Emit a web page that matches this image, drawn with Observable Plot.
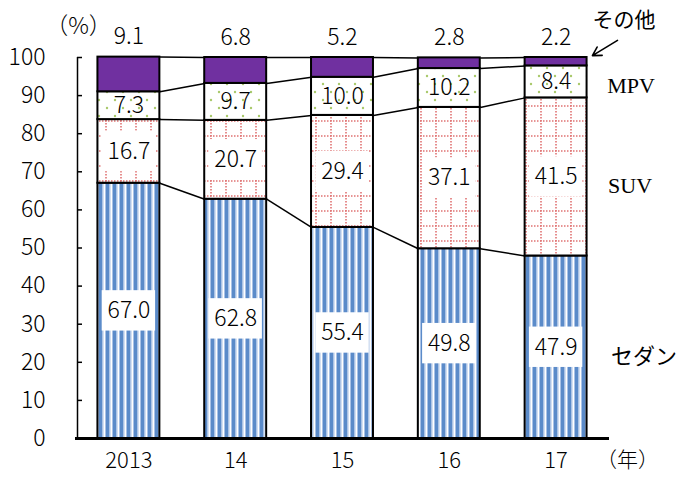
<!DOCTYPE html>
<html><head><meta charset="utf-8">
<script src="https://cdn.jsdelivr.net/npm/d3@7"></script>
<script src="https://cdn.jsdelivr.net/npm/@observablehq/plot@0.6"></script>
<style>body{margin:0;background:#fff}</style>
</head><body><div id="chart"></div>
<script>
// ---- data ----
const years = ["2013", "14", "15", "16", "17"];
const sedan = [67.0, 62.8, 55.4, 49.8, 47.9];
const suv   = [16.7, 20.7, 29.4, 37.1, 41.5];
const mpv   = [7.3, 9.7, 10.0, 10.2, 8.4];
const other = [9.1, 6.8, 5.2, 2.8, 2.2];
const yTicks = [0, 10, 20, 30, 40, 50, 60, 70, 80, 90, 100];
const seriesNames = ["セダン", "SUV", "MPV", "その他"];
const yUnit = "（%）";
const xUnit = "（年）";

// ---- derived tables ----
const seriesValues = [sedan, suv, mpv, other];
const patternIds = ["pSedan", "pSuv", "pMpv", "pOther"];
const half = 0.29;
const segs = seriesValues.map((vals, s) => vals.map((v, i) => {
  let lo = 0;
  for (let k = 0; k < s; k++) lo += seriesValues[k][i];
  return {s, i, value: v, lo, hi: lo + v, mid: lo + v / 2};
}));
const fmt = d3.format(".1f");
const links = [];
segs.forEach(list => {
  for (let i = 0; i < list.length - 1; i++) {
    links.push({x1: list[i].i + half, y1: list[i].hi, x2: list[i + 1].i - half, y2: list[i + 1].hi});
  }
});
const boxed = [...segs[0], ...segs[1]].map(d => ({
  i: d.i,
  y1: Math.max(d.lo + 0.9, d.mid - 5.3),
  y2: Math.min(d.hi - 0.9, d.mid + 5.3)
}));
const last = years.length - 1;

const gothic = `"Noto Sans CJK JP","Noto Sans",sans-serif`;
const serif = `"Liberation Serif","DejaVu Serif",serif`;
const num = {fontFamily: gothic, fontWeight: 300, fontSize: 23, fill: "#000"};

const marks = [];
seriesValues.forEach((vals, s) => {
  marks.push(Plot.rect(segs[s], {
    x1: d => d.i - half, x2: d => d.i + half, y1: "lo", y2: "hi",
    fill: s === 3 ? "#7030A0" : `url(#${patternIds[s]})`,
    stroke: "#000", strokeWidth: 2
  }));
});
marks.push(
  Plot.rect(boxed, {x1: d => d.i - 0.25, x2: d => d.i + 0.25, y1: "y1", y2: "y2", fill: "#fff"}),
  Plot.link(links, {x1: "x1", y1: "y1", x2: "x2", y2: "y2", stroke: "#000", strokeWidth: 1.5}),
  Plot.text([...segs[0], ...segs[1], ...segs[2]], {x: "i", y: "mid", text: d => fmt(d.value), ...num}),
  Plot.text(segs[3], {x: "i", y: "hi", dy: -20, text: d => fmt(d.value), ...num}),
  // series names next to the last bar
  Plot.text([segs[2][last]], {x: "i", y: "mid", dx: 75, dy: 4, text: () => seriesNames[2], fontFamily: serif, fontSize: 22, fill: "#000"}),
  Plot.text([segs[1][last]], {x: "i", y: "mid", dx: 74, dy: 9, text: () => seriesNames[1], fontFamily: serif, fontSize: 22, fill: "#000"}),
  Plot.text([segs[0][last]], {x: "i", y: "mid", dx: 88, dy: 10, text: () => seriesNames[0], fontFamily: gothic, fontWeight: 400, fontSize: 22, fill: "#000"}),
  Plot.text([segs[3][last]], {x: "i", y: 100, dx: 68, dy: -37, text: () => seriesNames[3], fontFamily: gothic, fontWeight: 400, fontSize: 21, fill: "#000"}),
  Plot.arrow([{x1: 4.575, y1: 104.5, x2: 4.34, y2: 100.5}], {x1: "x1", y1: "y1", x2: "x2", y2: "y2", stroke: "#000", strokeWidth: 1.6, headLength: 11}),
  Plot.text([yUnit], {x: -0.5, y: 100, dx: 3, dy: -31, text: d => d, fontFamily: gothic, fontWeight: 300, fontSize: 23, fill: "#000"}),
  Plot.text([xUnit], {x: 4.5, y: 0, dx: 18, dy: 22, text: d => d, fontFamily: gothic, fontWeight: 300, fontSize: 21, fill: "#000"}),
  Plot.axisY({ticks: yTicks, tickSize: -5, tickPadding: 37, tickFormat: d => String(d), fontFamily: gothic, fontWeight: 300, fontSize: 23, strokeWidth: 1.5, dx: 2}),
  Plot.axisX({ticks: d3.range(years.length), tickSize: 0, tickPadding: 14, tickFormat: i => years[i], fontFamily: gothic, fontWeight: 300, fontSize: 22}),
  Plot.ruleX([-0.5], {y1: 0, y2: 100, dx: 2, stroke: "#000", strokeWidth: 1.5}),
  Plot.ruleY([0], {stroke: "#000", strokeWidth: 3})
);

const chart = Plot.plot({
  width: 680, height: 478,
  marginTop: 57, marginBottom: 40, marginLeft: 75, marginRight: 71,
  x: {domain: [-0.5, 4.5]},
  y: {domain: [0, 100]},
  style: {background: "#fff", color: "#000", fontFamily: gothic},
  marks
});

// fill patterns
const ns = "http://www.w3.org/2000/svg";
const defs = document.createElementNS(ns, "defs");
defs.innerHTML = `
<pattern id="pSedan" width="7" height="7" patternUnits="userSpaceOnUse">
  <rect width="7" height="7" fill="#ffffff"/>
  <rect x="0" width="1" height="7" fill="#a9c2e6"/>
  <rect x="1" width="3.5" height="7" fill="#5b8bc9"/>
  <rect x="4.5" width="1" height="7" fill="#a9c2e6"/>
</pattern>
<pattern id="pSuv" width="15" height="15" patternUnits="userSpaceOnUse">
  <rect width="15" height="15" fill="#ffffff"/>
  <line x1="0" y1="1" x2="15" y2="1" stroke="#e07272" stroke-width="1.6" stroke-dasharray="1.5 1.5"/>
  <line x1="1" y1="0" x2="1" y2="15" stroke="#e07272" stroke-width="1.6" stroke-dasharray="1.5 1.5"/>
</pattern>
<pattern id="pMpv" width="16" height="16" patternUnits="userSpaceOnUse">
  <rect width="16" height="16" fill="#ffffff"/>
  <circle cx="3" cy="4" r="1.2" fill="#a9c96a"/>
  <circle cx="11" cy="12" r="1.2" fill="#a9c96a"/>
</pattern>`;
chart.insertBefore(defs, chart.firstChild);
document.getElementById("chart").appendChild(chart);
</script>
</body></html>
